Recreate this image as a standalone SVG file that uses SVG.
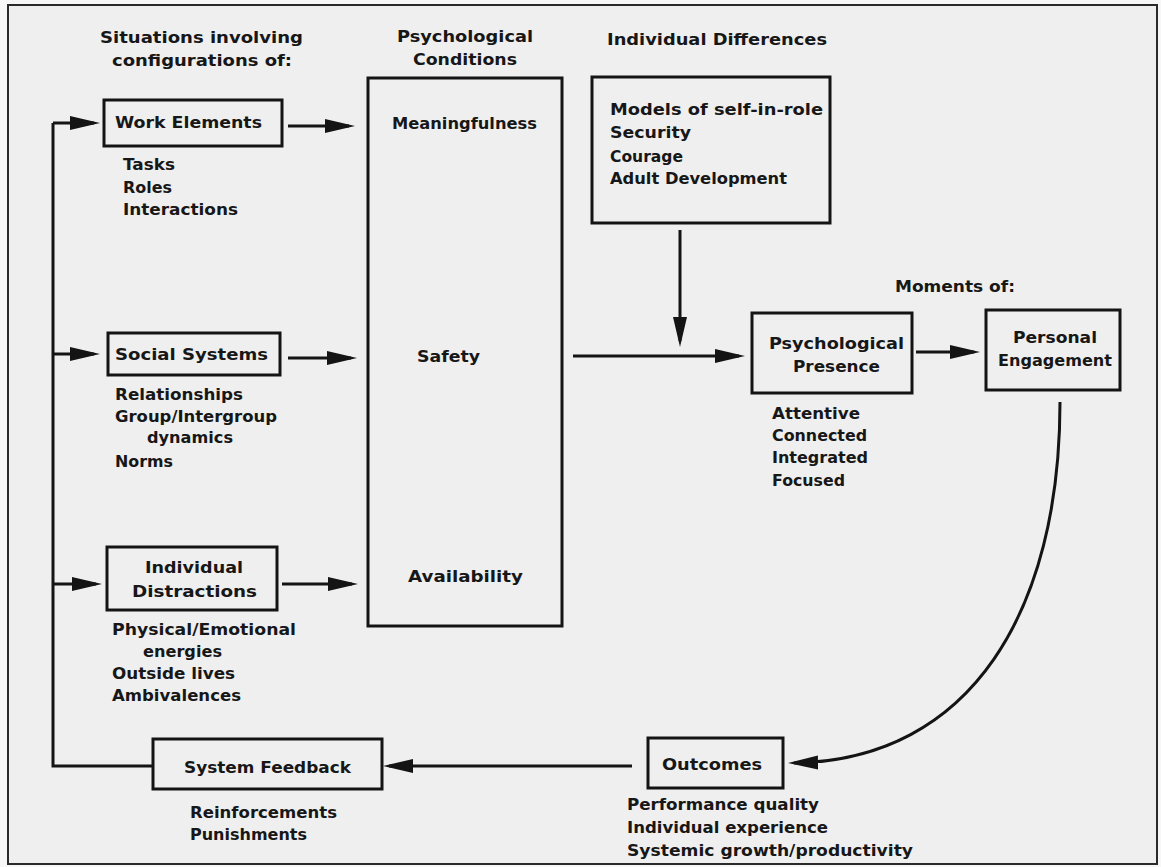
<svg xmlns="http://www.w3.org/2000/svg" width="1161" height="867" viewBox="0 0 1161 867">
  <style>
    .t { font-family: "DejaVu Sans", Verdana, sans-serif; font-weight: bold; font-size: 16px; fill: #171717; }
    .box { fill: #efefef; stroke: #141414; stroke-width: 3; }
    .ln { fill: none; stroke: #141414; stroke-width: 3; }
    .arr { marker-end: url(#ah); }
  </style>
  <defs>
    <marker id="ah" markerUnits="userSpaceOnUse" markerWidth="32" markerHeight="16" refX="24" refY="7" orient="auto">
      <path d="M0,0 L30,7 L0,14 z" fill="#141414"/>
    </marker>
  </defs>

  <!-- page and outer frame -->
  <rect x="0" y="0" width="1161" height="867" fill="#f7f7f7"/>
  <rect x="8" y="5" width="1149" height="859" fill="#efefef" stroke="#2a2a2a" stroke-width="2"/>

  <!-- column headings -->
  <g id="headings">
    <text class="t" x="100" y="43" textLength="203" lengthAdjust="spacingAndGlyphs">Situations involving</text>
    <text class="t" x="112" y="66" textLength="180" lengthAdjust="spacingAndGlyphs">configurations of:</text>
    <text class="t" x="397" y="42" textLength="136" lengthAdjust="spacingAndGlyphs">Psychological</text>
    <text class="t" x="413" y="65" textLength="104" lengthAdjust="spacingAndGlyphs">Conditions</text>
    <text class="t" x="607" y="45" textLength="220" lengthAdjust="spacingAndGlyphs">Individual Differences</text>
    <text class="t" x="895" y="292" textLength="120" lengthAdjust="spacingAndGlyphs">Moments of:</text>
  </g>

  <!-- connectors -->
  <g id="connectors">
    <path class="ln" d="M153,766 H53 V123"/>
    <path class="ln arr" d="M53,123 H94"/>
    <path class="ln arr" d="M53,354 H94"/>
    <path class="ln arr" d="M53,584 H96"/>
    <path class="ln arr" d="M288,126 H349"/>
    <path class="ln arr" d="M288,358 H351"/>
    <path class="ln arr" d="M282,584 H352"/>
    <path class="ln arr" d="M573,356 H739"/>
    <path class="ln arr" d="M680,230 V341"/>
    <path class="ln arr" d="M916,352 H974"/>
    <path class="ln arr" d="M1060,402 C1060,610 972,760 794,763"/>
    <path class="ln arr" d="M632,766 H389"/>
  </g>

  <g id="work-elements">
    <rect class="box" x="104" y="100" width="178" height="46"/>
    <text class="t" x="115" y="128" textLength="147" lengthAdjust="spacingAndGlyphs">Work Elements</text>
    <text class="t" x="123" y="170" textLength="52" lengthAdjust="spacingAndGlyphs">Tasks</text>
    <text class="t" x="123" y="193" textLength="49" lengthAdjust="spacingAndGlyphs">Roles</text>
    <text class="t" x="123" y="215" textLength="115" lengthAdjust="spacingAndGlyphs">Interactions</text>
  </g>

  <g id="social-systems">
    <rect class="box" x="108" y="333" width="172" height="42"/>
    <text class="t" x="115" y="360" textLength="153" lengthAdjust="spacingAndGlyphs">Social Systems</text>
    <text class="t" x="115" y="400" textLength="128" lengthAdjust="spacingAndGlyphs">Relationships</text>
    <text class="t" x="115" y="422" textLength="162" lengthAdjust="spacingAndGlyphs">Group/Intergroup</text>
    <text class="t" x="147" y="443" textLength="86" lengthAdjust="spacingAndGlyphs">dynamics</text>
    <text class="t" x="115" y="467" textLength="58" lengthAdjust="spacingAndGlyphs">Norms</text>
  </g>

  <g id="individual-distractions">
    <rect class="box" x="107" y="547" width="170" height="63"/>
    <text class="t" x="145" y="573" textLength="98" lengthAdjust="spacingAndGlyphs">Individual</text>
    <text class="t" x="132" y="597" textLength="125" lengthAdjust="spacingAndGlyphs">Distractions</text>
    <text class="t" x="112" y="635" textLength="184" lengthAdjust="spacingAndGlyphs">Physical/Emotional</text>
    <text class="t" x="143" y="657" textLength="79" lengthAdjust="spacingAndGlyphs">energies</text>
    <text class="t" x="112" y="679" textLength="123" lengthAdjust="spacingAndGlyphs">Outside lives</text>
    <text class="t" x="112" y="701" textLength="129" lengthAdjust="spacingAndGlyphs">Ambivalences</text>
  </g>

  <g id="psychological-conditions">
    <rect class="box" x="368" y="78" width="194" height="548" stroke-width="3.5"/>
    <text class="t" x="392" y="129" textLength="145" lengthAdjust="spacingAndGlyphs">Meaningfulness</text>
    <text class="t" x="417" y="362" textLength="63" lengthAdjust="spacingAndGlyphs">Safety</text>
    <text class="t" x="408" y="582" textLength="115" lengthAdjust="spacingAndGlyphs">Availability</text>
  </g>

  <g id="individual-differences">
    <rect class="box" x="592" y="77" width="238" height="146"/>
    <text class="t" x="610" y="115" textLength="213" lengthAdjust="spacingAndGlyphs">Models of self-in-role</text>
    <text class="t" x="610" y="138" textLength="81" lengthAdjust="spacingAndGlyphs">Security</text>
    <text class="t" x="610" y="162" textLength="73" lengthAdjust="spacingAndGlyphs">Courage</text>
    <text class="t" x="610" y="184" textLength="177" lengthAdjust="spacingAndGlyphs">Adult Development</text>
  </g>

  <g id="psychological-presence">
    <rect class="box" x="752" y="313" width="160" height="80"/>
    <text class="t" x="769" y="349" textLength="135" lengthAdjust="spacingAndGlyphs">Psychological</text>
    <text class="t" x="793" y="372" textLength="87" lengthAdjust="spacingAndGlyphs">Presence</text>
    <text class="t" x="772" y="419" textLength="88" lengthAdjust="spacingAndGlyphs">Attentive</text>
    <text class="t" x="772" y="441" textLength="95" lengthAdjust="spacingAndGlyphs">Connected</text>
    <text class="t" x="772" y="463" textLength="96" lengthAdjust="spacingAndGlyphs">Integrated</text>
    <text class="t" x="772" y="486" textLength="73" lengthAdjust="spacingAndGlyphs">Focused</text>
  </g>

  <g id="personal-engagement">
    <rect class="box" x="986" y="310" width="134" height="80"/>
    <text class="t" x="1013" y="343" textLength="84" lengthAdjust="spacingAndGlyphs">Personal</text>
    <text class="t" x="998" y="366" textLength="114" lengthAdjust="spacingAndGlyphs">Engagement</text>
  </g>

  <g id="outcomes">
    <rect class="box" x="648" y="738" width="135" height="50"/>
    <text class="t" x="662" y="770" textLength="100" lengthAdjust="spacingAndGlyphs">Outcomes</text>
    <text class="t" x="627" y="810" textLength="192" lengthAdjust="spacingAndGlyphs">Performance quality</text>
    <text class="t" x="627" y="833" textLength="201" lengthAdjust="spacingAndGlyphs">Individual experience</text>
    <text class="t" x="627" y="856" textLength="286" lengthAdjust="spacingAndGlyphs">Systemic growth/productivity</text>
  </g>

  <g id="system-feedback">
    <rect class="box" x="153" y="739" width="229" height="50"/>
    <text class="t" x="184" y="773" textLength="167" lengthAdjust="spacingAndGlyphs">System Feedback</text>
    <text class="t" x="190" y="818" textLength="147" lengthAdjust="spacingAndGlyphs">Reinforcements</text>
    <text class="t" x="190" y="840" textLength="117" lengthAdjust="spacingAndGlyphs">Punishments</text>
  </g>
</svg>
